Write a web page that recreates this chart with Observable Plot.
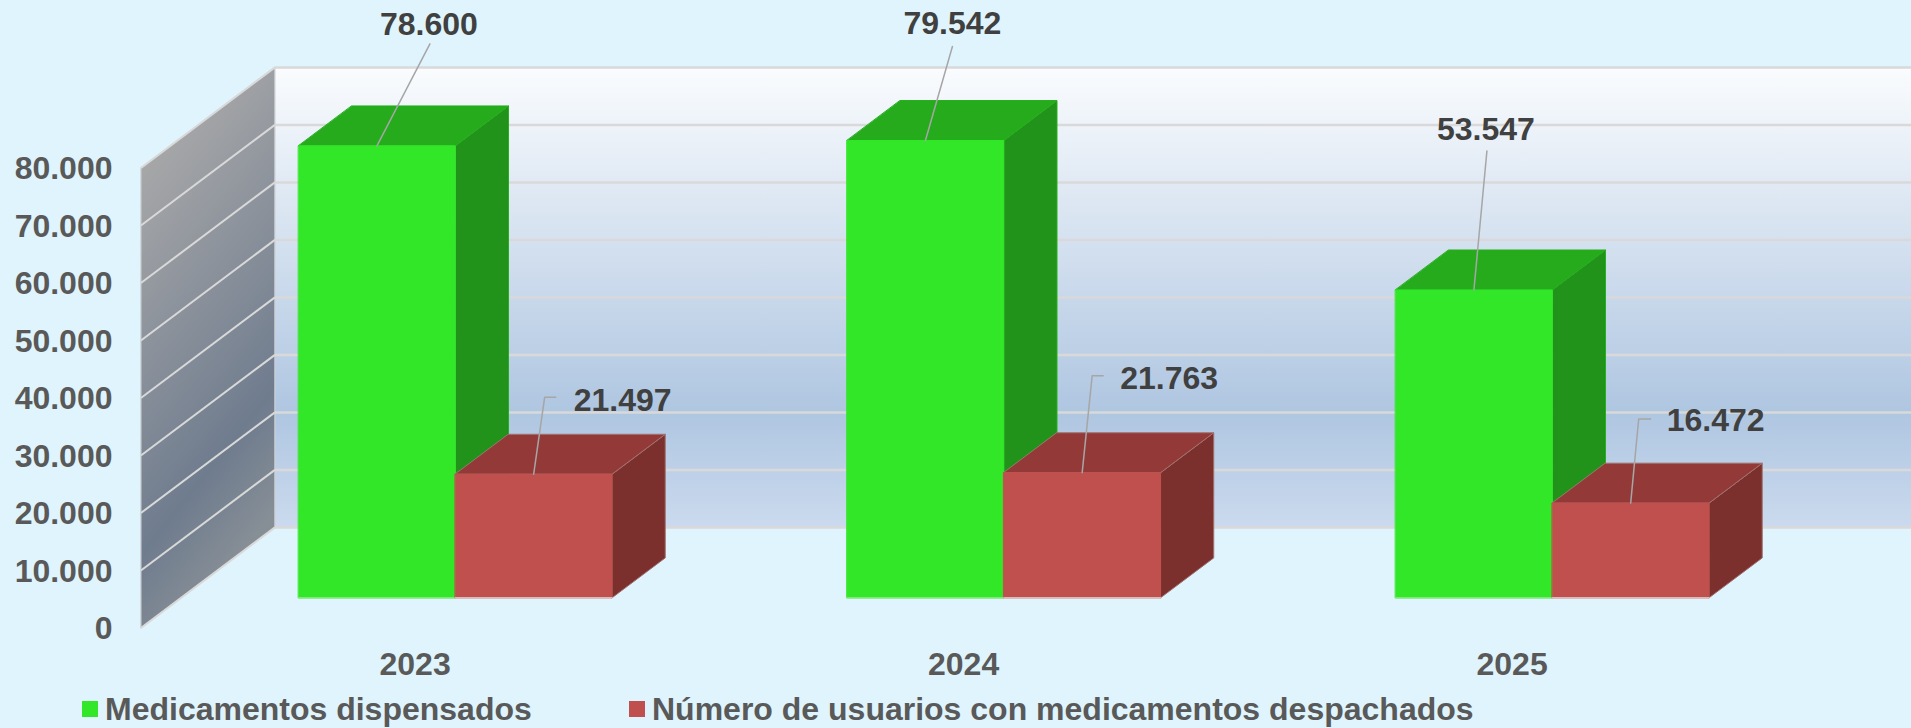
<!DOCTYPE html>
<html lang="es">
<head>
<meta charset="utf-8">
<script src="https://cdn.jsdelivr.net/npm/d3@7"></script>
<script src="https://cdn.jsdelivr.net/npm/@observablehq/plot@0.6"></script>
<style>
html,body{margin:0;padding:0;background:#DFF4FC;overflow:hidden}
#chart svg{display:block}
#legend{position:relative;height:36px;width:1911px;font:bold 32px "Liberation Sans",Arial,sans-serif;color:#595959}
#legend span.s{position:absolute;top:9px;width:16px;height:16px}
#legend span.t{position:absolute;top:-1px;line-height:36px;white-space:nowrap}
</style>
</head>
<body>
<div id="chart"></div>
<div id="legend"></div>
<script>
// ---- data ----
const years = ["2023", "2024", "2025"];
const seriesNames = ["Medicamentos dispensados", "Número de usuarios con medicamentos despachados"];
const dispensados = [78600, 79542, 53547];
const usuarios = [21497, 21763, 16472];
const yTicks = [0, 10000, 20000, 30000, 40000, 50000, 60000, 70000, 80000];

// ---- colours ----
const faces = [
  {front: "#32E628", top: "#25AB1C", side: "#21921A", edge: "#27B01E", base: "#7DEB77"},
  {front: "#C0504D", top: "#933A38", side: "#7C302E", edge: "#A07270", base: "#DDB9B9"}
];

// ---- layout: the scales below are for the wall's front plane; depth t runs 0..1 to the back wall ----
const W = 1911, H = 692;
const pxPerUnit = 548.5, pxPerValue = 0.00575;
const xAt0 = 414.6, yAt0 = 627.5;
const depthX = 134 / pxPerUnit, depthY = 100.6 / pxPerValue;
const t0 = 0.30, t1 = 0.697;          // front and back of the bars
const barW = 156.75 / pxPerUnit;
const wallX = (140.4 - xAt0) / pxPerUnit;
const xMax = (W - xAt0) / pxPerUnit;
const topV = 80000;

const P = (u, v, t) => ({x: u + t * depthX, y: v + t * depthY});
const locale = d3.formatLocale({decimal: ",", thousands: ".", grouping: [3], currency: ["", ""]});
const fmt = locale.format(",");

const poly = (pts, fill, stroke, strokeWidth = 1) => Plot.line(pts, {x: "x", y: "y", fill, stroke: stroke || fill, strokeWidth, curve: "linear-closed"});

function box(u0, u1, v, c) {
  const a = [P(u1, 0, t0), P(u1, 0, t1), P(u1, v, t1), P(u1, v, t0)];
  const b = [P(u0, v, t0), P(u1, v, t0), P(u1, v, t1), P(u0, v, t1)];
  const f = [P(u0, 0, t0), P(u1, 0, t0), P(u1, v, t0), P(u0, v, t0)];
  const base = [P(u0, 0, t0), P(u1, 0, t0)];
  return [
    poly(a, c.side, c.edge),
    poly(b, c.top, c.edge),
    poly(f, c.front),
    Plot.line(base, {x: "x", y: "y", stroke: c.base, strokeWidth: 1.5})
  ];
}

// label placement, in pixels from the middle of each bar's top front edge
const leaderLayout = [
  [{lx: 52, ly: -121, ex: 53, ey: -102}, {lx: 89, ly: -73, bx: 11, by: -77, ex: 22, ey: -77}],
  [{lx: 27, ly: -117, ex: 27, ey: -94},  {lx: 87, ly: -94, bx: 10, by: -97, ex: 21, ey: -97}],
  [{lx: 12, ly: -160, ex: 13, ey: -139}, {lx: 85, ly: -82, bx: 8, by: -84, ex: 20, ey: -84}]
];

const dataMarks = [], leaderRows = [], labelRows = [];
years.forEach((yr, i) => {
  const join = i;
  const vals = [dispensados[i], usuarios[i]];
  vals.forEach((v, s) => {
    const u0 = join + (s - 1) * barW, u1 = u0 + barW, mid = (u0 + u1) / 2;
    dataMarks.push(...box(u0, u1, v, faces[s]));
    const o = leaderLayout[i][s];
    const base = P(mid, v, t0);
    const at = (dx, dy) => ({x: base.x + dx / pxPerUnit, y: base.y - dy / pxPerValue, z: `${i}-${s}`});
    leaderRows.push(at(0, 0));
    if (o.bx != null) leaderRows.push(at(o.bx, o.by));
    leaderRows.push(at(o.ex, o.ey));
    labelRows.push({...at(o.lx, o.ly), text: fmt(v)});
  });
});

const defs = () => {
  const d = d3.create("svg:defs");
  const grad = (id, x2, y2, stops) => {
    const g = d.append("linearGradient").attr("id", id)
      .attr("x1", 0).attr("y1", 0).attr("x2", x2).attr("y2", y2);
    stops.forEach(([o, c]) => g.append("stop").attr("offset", o).attr("stop-color", c));
  };
  grad("backWall", 0, 1, [[0, "#FAFCFE"], [0.75, "#AFC6E1"], [1, "#CBDAEE"]]);
  grad("sideWall", 0.3, 1, [[0.15, "#A8A8A9"], [0.8, "#6F7C8E"], [1, "#868E96"]]);
  return d.node();
};

const wallBack = [P(wallX, 0, 1), P(xMax, 0, 1), P(xMax, topV, 1), P(wallX, topV, 1)];
const wallSide = [P(wallX, 0, 0), P(wallX, 0, 1), P(wallX, topV, 1), P(wallX, topV, 0)];
const gridBack = yTicks.map(v => ({x1: P(wallX, v, 1).x, y1: P(wallX, v, 1).y, x2: P(xMax, v, 1).x, y2: P(xMax, v, 1).y}));
const gridSide = yTicks.map(v => ({x1: P(wallX, v, 0).x, y1: P(wallX, v, 0).y, x2: P(wallX, v, 1).x, y2: P(wallX, v, 1).y}));

const chart = Plot.plot({
  width: W,
  height: H,
  marginLeft: 112,
  marginRight: 0,
  marginTop: 0,
  marginBottom: 52,
  style: {fontFamily: "'Liberation Sans',Arial,sans-serif", fontWeight: "bold", background: "transparent", color: "#595959"},
  x: {type: "linear", domain: [-xAt0 / pxPerUnit, xMax], range: [0, W]},
  y: {type: "linear", domain: [(yAt0 - H) / pxPerValue, yAt0 / pxPerValue], range: [H, 0]},
  marks: [
    defs,
    poly(wallBack, "url(#backWall)", "none"),
    poly(wallSide, "url(#sideWall)", "#CDD0D3", 1.2),
    Plot.link(gridBack, {x1: "x1", y1: "y1", x2: "x2", y2: "y2", stroke: "#D9D9D9", strokeWidth: 2.5}),
    Plot.link(gridSide, {x1: "x1", y1: "y1", x2: "x2", y2: "y2", stroke: "#D9D9D9", strokeWidth: 2}),
    ...dataMarks,
    Plot.line(leaderRows, {x: "x", y: "y", z: "z", stroke: "#A6A6A6", strokeWidth: 1.5}),
    Plot.text(labelRows, {x: "x", y: "y", text: "text", fill: "#404040", fontSize: 32, fontWeight: "bold", textAnchor: "middle", lineAnchor: "middle"}),
    Plot.axisY({anchor: "left", ticks: yTicks, tickFormat: fmt, tickSize: 0, tickPadding: 0, label: null, fontSize: 32, fontWeight: "bold", color: "#595959", dy: 1}),
    Plot.axisX({anchor: "bottom", ticks: [0, 1, 2], tickFormat: i => years[i], tickSize: 0, tickPadding: 12, label: null, fontSize: 32, fontWeight: "bold", color: "#595959"})
  ]
});
document.getElementById("chart").append(chart);

const legend = d3.select("#legend");
const legendX = [82, 629];
seriesNames.forEach((name, s) => {
  legend.append("span").attr("class", "s").style("left", legendX[s] + "px").style("background", faces[s].front);
  legend.append("span").attr("class", "t").style("left", legendX[s] + 23 + "px").text(name);
});
</script>
</body>
</html>
